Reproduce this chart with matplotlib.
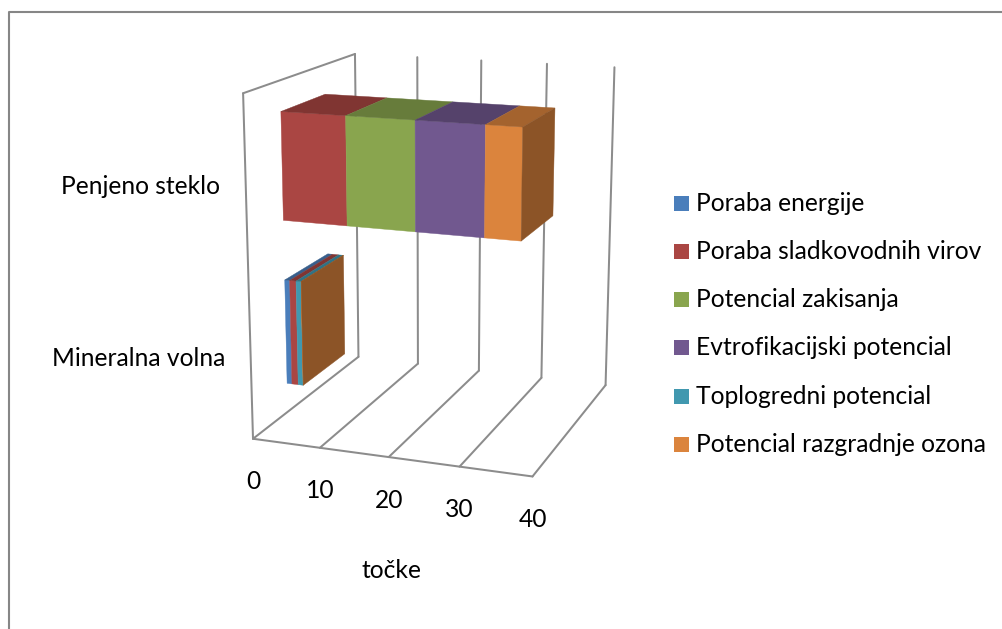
import numpy as np
from matplotlib import pyplot as plt

categories = ['Mineralna volna', 'Penjeno steklo']
series = ['Poraba energije', 'Poraba sladkovodnih virov', 'Potencial zakisanja',
          'Evtrofikacijski potencial', 'Toplogredni potencial', 'Potencial razgradnje ozona']
colors = ['#4A7EBB', '#AA4643', '#89A54E', '#71588F', '#4198AF', '#DB843D']

poraba_energije = [0.76, 0.0]
poraba_vode = [0.97, 9.6]
zakisanje = [0.0, 10.0]
evtrofikacija = [0.0, 9.85]
toplogredni = [0.77, 0.0]
ozon = [0.02, 5.1]
values = [poraba_energije, poraba_vode, zakisanje, evtrofikacija, toplogredni, ozon]

ticks = [0, 10, 20, 30, 40]

# chart box corners seen in the picture, used to fit the perspective
cal = [(0, 0, 0, 253, 439), (40, 0, 0, 532, 476.7), (40, 1, 0, 605.7, 385), (0, 1, 0, 358, 357),
       (0, 1, 1, 355.3, 54.3), (0, 0, 1, 242.7, 93.3), (40, 1, 1, 614.3, 67.3),
       (10, 0, 0, 320, 447), (20, 0, 0, 389, 457), (30, 0, 0, 460, 467),
       (10, 1, 1, 417.7, 57), (20, 1, 1, 481, 60), (30, 1, 1, 547, 64)]
A = []
b = []
for v, d, h, x, y in cal:
    A.append([v, d, h, 1, 0, 0, 0, 0, -x*v, -x*d, -x*h])
    b.append(x)
    A.append([0, 0, 0, 0, v, d, h, 1, -y*v, -y*d, -y*h])
    b.append(y)
p = np.linalg.lstsq(np.array(A, float), np.array(b, float), rcond=None)[0]
P = np.append(p, 1).reshape(3, 4)


def proj(v, d, h):
    q = P @ np.array([v, d, h, 1.0])
    return q[0] / q[2], q[1] / q[2]


def shade(c, f):
    rgb = [int(c[i:i+2], 16) / 255 * f for i in (1, 3, 5)]
    return tuple(rgb)


fig = plt.figure(figsize=(10.03, 6.29), dpi=100)
ax = fig.add_axes([0, 0, 1, 1])
ax.set_xlim(0, 1003)
ax.set_ylim(629, 0)
ax.axis('off')

plt.rcParams['font.family'] = ['Lato', 'DejaVu Sans']
fs = 17.7
grid = '#8C8C8C'


def line(a, b):
    xa, ya = proj(*a)
    xb, yb = proj(*b)
    ax.plot([xa, xb], [ya, yb], color=grid, lw=1.45, solid_capstyle='round', zorder=1)


# outer frame
ax.plot([9, 9, 1003], [629, 11.5, 11.5], color='#868686', lw=1.5, zorder=1)

# walls and floor
line((0, 0, 0), (0, 0, 1))
line((0, 0, 1), (0, 1, 1))
line((0, 0, 0), (40, 0, 0))
for t in ticks:
    line((t, 0, 0), (t, 1, 0))
    line((t, 1, 0), (t, 1, 1))

# stacked bars
d0, d1 = 0.3, 0.7
slots = [(0.09, 0.41), (0.59, 0.91)]
for k, (h0, h1) in enumerate(slots):
    left = 0.0
    for vals, c in zip(values, colors):
        w = vals[k]
        if w > 0:
            right = left + w
            front = [proj(left, d0, h0), proj(right, d0, h0), proj(right, d0, h1), proj(left, d0, h1)]
            top = [proj(left, d0, h1), proj(right, d0, h1), proj(right, d1, h1), proj(left, d1, h1)]
            ax.fill(*zip(*front), color=c, lw=0.3, zorder=3)
            ax.fill(*zip(*top), color=shade(c, 0.75), lw=0.3, zorder=3)
            left = right
    side = [proj(left, d0, h0), proj(left, d1, h0), proj(left, d1, h1), proj(left, d0, h1)]
    ax.fill(*zip(*side), color=shade(colors[-1], 0.64), lw=0.3, zorder=4)

# tick labels
for t in ticks:
    x, y = proj(t, 0, 0)
    ax.text(x, y + 43, str(t), ha='center', va='center', fontsize=fs, color='black')
ax.text(392, 571, 'točke', ha='center', va='center', fontsize=fs, color='black')

# category labels
ax.text(220, 187, categories[1], ha='right', va='center', fontsize=fs, color='black')
ax.text(225, 358, categories[0], ha='right', va='center', fontsize=fs, color='black')

# legend
leg_y = [203.3, 251.3, 299.3, 347.5, 396, 444]
for y, name, c in zip(leg_y, series, colors):
    ax.fill([674, 689, 689, 674], [y-7.5, y-7.5, y+7.5, y+7.5], color=c, lw=0)
    ax.text(696, y, name, ha='left', va='center', fontsize=fs, color='black')

fig.savefig('out.png', dpi=100)
